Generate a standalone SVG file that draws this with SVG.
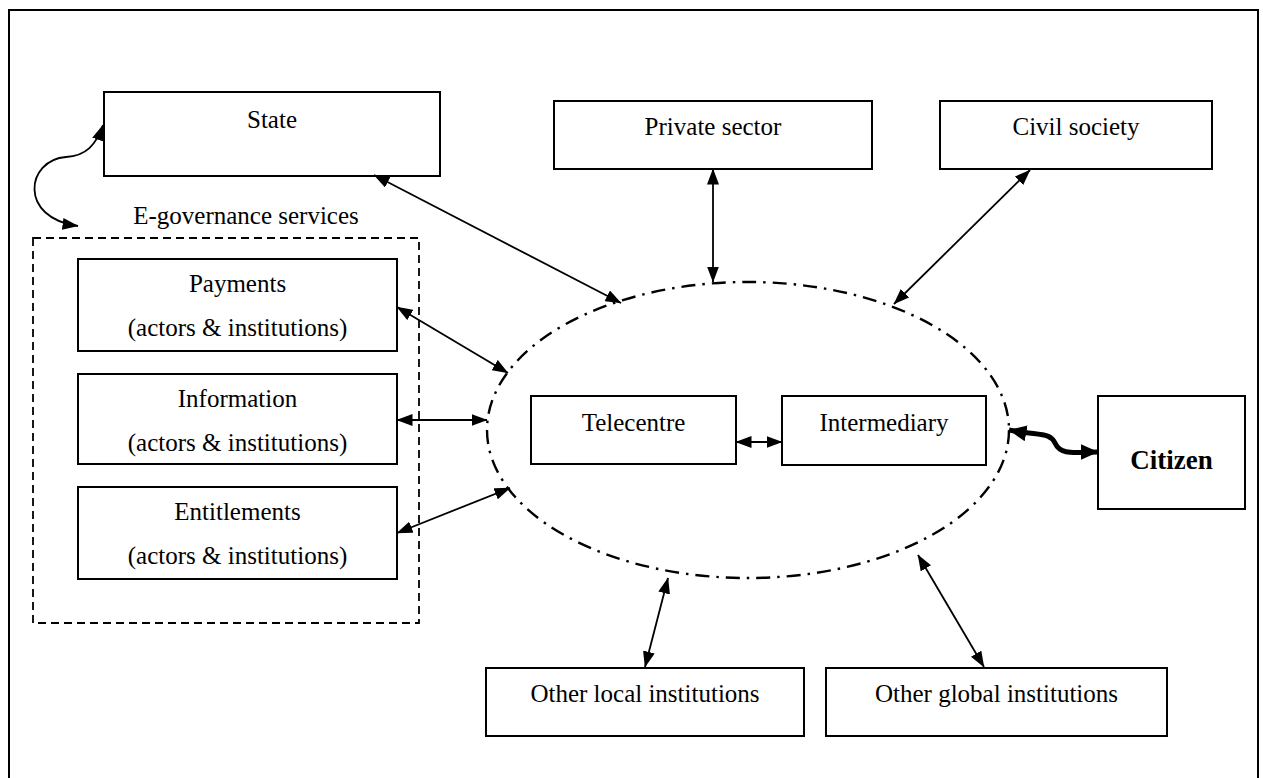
<svg xmlns="http://www.w3.org/2000/svg" width="1263" height="778" viewBox="0 0 1263 778">
  <style>
    .box { fill: #fff; stroke: #000; stroke-width: 2; }
    .lbl { font-family: "Liberation Serif", "Times New Roman", serif; font-size: 25px; fill: #000; text-anchor: middle; }
    .bold { font-weight: bold; font-size: 27px; }
    .link { fill: none; stroke: #000; stroke-width: 1.8; marker-start: url(#ah); marker-end: url(#ah); }
    .thick { fill: none; stroke: #000; stroke-width: 5; marker-start: url(#ahBig); marker-end: url(#ahBig); }
  </style>
  <defs>
    <marker id="ah" viewBox="0 0 16 12" refX="15.5" refY="6" markerWidth="16" markerHeight="12" markerUnits="userSpaceOnUse" orient="auto-start-reverse">
      <path d="M0,0 L16,6 L0,12 z" fill="#000"/>
    </marker>
    <marker id="ahBig" viewBox="0 0 18 16" refX="17.5" refY="8" markerWidth="18" markerHeight="16" markerUnits="userSpaceOnUse" orient="auto-start-reverse">
      <path d="M0,0 L18,8 L0,16 z" fill="#000"/>
    </marker>
  </defs>

  <rect width="1263" height="778" fill="#fff"/>
  <!-- frame -->
  <rect x="9" y="10" width="1249" height="775" fill="none" stroke="#000" stroke-width="2"/>

  <!-- e-governance services cluster -->
  <g id="egov">
    <rect x="33" y="238" width="386" height="385" fill="none" stroke="#000" stroke-width="1.8" stroke-dasharray="8 5"/>
    <text class="lbl" x="246" y="224">E-governance services</text>
  </g>

  <g id="state">
    <rect class="box" x="104" y="92" width="336" height="84"/>
    <text class="lbl" x="272" y="128">State</text>
  </g>
  <g id="private">
    <rect class="box" x="554" y="101" width="318" height="68"/>
    <text class="lbl" x="713" y="135">Private sector</text>
  </g>
  <g id="civil">
    <rect class="box" x="940" y="101" width="272" height="68"/>
    <text class="lbl" x="1076" y="135">Civil society</text>
  </g>

  <g id="payments">
    <rect class="box" x="78" y="259" width="319" height="92"/>
    <text class="lbl" x="237.5" y="292">Payments</text>
    <text class="lbl" x="237.5" y="336">(actors &amp; institutions)</text>
  </g>
  <g id="information">
    <rect class="box" x="78" y="374" width="319" height="90"/>
    <text class="lbl" x="237.5" y="407">Information</text>
    <text class="lbl" x="237.5" y="451">(actors &amp; institutions)</text>
  </g>
  <g id="entitlements">
    <rect class="box" x="78" y="487" width="319" height="92"/>
    <text class="lbl" x="237.5" y="520">Entitlements</text>
    <text class="lbl" x="237.5" y="564">(actors &amp; institutions)</text>
  </g>

  <!-- local intermediation zone -->
  <g id="hub">
    <ellipse cx="748" cy="430" rx="261" ry="148" fill="none" stroke="#000" stroke-width="2.4" stroke-dasharray="14 7 2.5 7"/>
  </g>
  <g id="telecentre">
    <rect class="box" x="531" y="396" width="205" height="68"/>
    <text class="lbl" x="633.5" y="431">Telecentre</text>
  </g>
  <g id="intermediary">
    <rect class="box" x="782" y="396" width="204" height="69"/>
    <text class="lbl" x="884" y="431">Intermediary</text>
  </g>

  <g id="citizen">
    <rect class="box" x="1098" y="396" width="147" height="113"/>
    <text class="lbl bold" x="1171.5" y="469">Citizen</text>
  </g>

  <g id="local">
    <rect class="box" x="486" y="668" width="318" height="68"/>
    <text class="lbl" x="645" y="702">Other local institutions</text>
  </g>
  <g id="global">
    <rect class="box" x="826" y="668" width="341" height="68"/>
    <text class="lbl" x="996.5" y="702">Other global institutions</text>
  </g>

  <!-- connectors -->
  <g id="connectors">
    <path class="link" d="M103,125 C96,145 86,156 66,157 C26,160 18,218 78,226"/>
    <line class="link" x1="374" y1="175" x2="621" y2="303"/>
    <line class="link" x1="713" y1="169" x2="713" y2="282"/>
    <line class="link" x1="1030" y1="170" x2="894" y2="304"/>
    <line class="link" x1="397" y1="307" x2="508" y2="373"/>
    <line class="link" x1="397" y1="420" x2="487" y2="420"/>
    <line class="link" x1="397" y1="533" x2="510" y2="488"/>
    <line class="link" x1="736" y1="442" x2="782" y2="442"/>
    <line class="link" x1="668" y1="578" x2="645" y2="667"/>
    <line class="link" x1="918" y1="555" x2="984" y2="667"/>
    <path class="thick" d="M1009,430 C1040,436 1050,432 1055,443 C1061,456 1075,452 1098,452"/>
  </g>
</svg>
